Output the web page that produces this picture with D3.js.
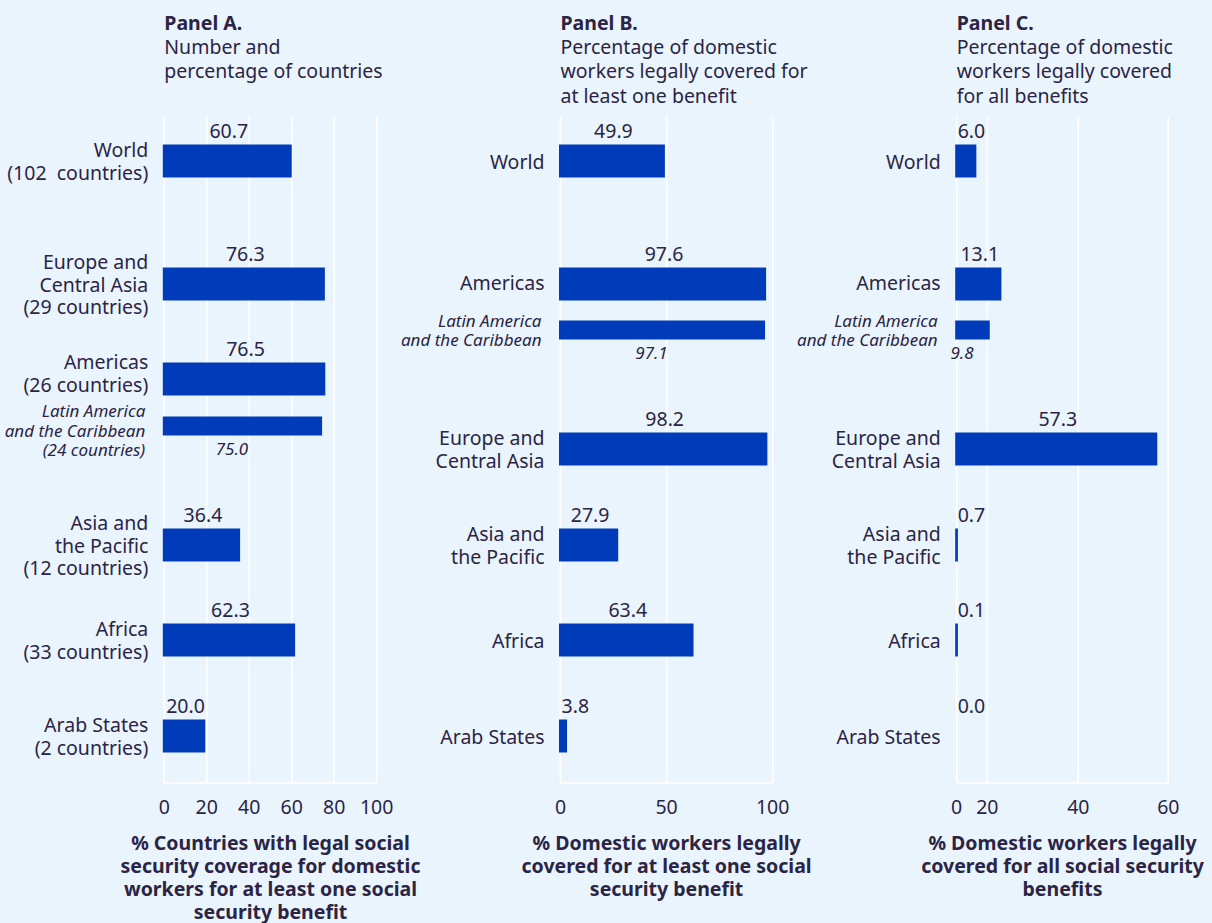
<!DOCTYPE html>
<html>
<head>
<meta charset="utf-8">
<script src="https://cdn.jsdelivr.net/npm/d3@7/dist/d3.min.js"></script>
<style>
  body { margin: 0; background: #eaf4fd; }
  svg { display: block; font-family: "Noto Sans", sans-serif; }
  text { fill: #2b2444; white-space: pre; }
</style>
</head>
<body>
<svg width="1212" height="923"></svg>
<script>
// ---- data ----
const catsA = ["World\n(102  countries)", "Europe and\nCentral Asia\n(29 countries)", "Americas\n(26 countries)",
  "Latin America\nand the Caribbean\n(24 countries)", "Asia and\nthe Pacific\n(12 countries)", "Africa\n(33 countries)", "Arab States\n(2 countries)"];
const valuesA = [60.7, 76.3, 76.5, 75.0, 36.4, 62.3, 20.0];
const subA = [false, false, false, true, false, false, false];

const catsBC = ["World", "Americas", "Latin America\nand the Caribbean", "Europe and\nCentral Asia",
  "Asia and\nthe Pacific", "Africa", "Arab States"];
const valuesB = [49.9, 97.6, 97.1, 98.2, 27.9, 63.4, 3.8];
const valuesC = [6.0, 13.1, 9.8, 57.3, 0.7, 0.1, 0.0];
const subBC = [false, false, true, false, false, false, false];

const ticksA = [0, 20, 40, 60, 80, 100];
const tickLabelsA = ["0", "20", "40", "60", "80", "100"];
const ticksB = [0, 50, 100];
const tickLabelsB = ["0", "50", "100"];
// panel C: grid lines sit where the source drew them, labels as printed
const ticksC = [0, 8.7, 34.5, 60];
const tickLabelsC = ["0", "20", "40", "60"];

const titles = ["Panel A.", "Panel B.", "Panel C."];
const subtitles = [
  ["Number and", "percentage of countries"],
  ["Percentage of domestic", "workers legally covered for", "at least one benefit"],
  ["Percentage of domestic", "workers legally covered", "for all benefits"]
];
const axisTitles = [
  ["% Countries with legal social", "security coverage for domestic", "workers for at least one social", "security benefit"],
  ["% Domestic workers legally", "covered for at least one social", "security benefit"],
  ["% Domestic workers legally", "covered for all social security", "benefits"]
];

// ---- layout ----
const barColor = "#003cb9";
const fs = 19.5, fsSub = 17;
const rowYA = [161, 284, 379, 426, 545, 640, 736];
const rowYBC = [161, 284, 330, 449, 545, 640, 736];

const panels = [
  { cats: catsA, vals: valuesA, sub: subA, rows: rowYA, domain: [0, 100], range: [164.3, 376.7], ticks: ticksA, tickLabels: tickLabelsA },
  { cats: catsBC, vals: valuesB, sub: subBC, rows: rowYBC, domain: [0, 100], range: [560.5, 772.7], ticks: ticksB, tickLabels: tickLabelsB },
  { cats: catsBC, vals: valuesC, sub: subBC, rows: rowYBC, domain: [0, 60], range: [956.7, 1168.3], ticks: ticksC, tickLabels: tickLabelsC }
];

const svg = d3.select("svg");
svg.append("rect").attr("width", 1212).attr("height", 923).attr("fill", "#eaf4fd");

const plotTop = 117, plotBottom = 783;

panels.forEach((p, i) => {
  const g = svg.append("g");
  const x = d3.scaleLinear().domain(p.domain).range(p.range);
  const y = d3.scaleOrdinal().domain(p.cats).range(p.rows);
  const x0 = x(0);

  // title
  g.append("text").attr("x", x0).attr("y", 22).attr("dominant-baseline", "central")
    .attr("font-size", fs).attr("font-weight", "bold").text(titles[i]);
  g.selectAll(".subt").data(subtitles[i]).join("text")
    .attr("x", x0).attr("y", (d, k) => 46 + k * 24.5).attr("dominant-baseline", "central")
    .attr("font-size", fs).text(d => d);

  // grid
  g.selectAll(".grid").data(p.ticks).join("line")
    .attr("x1", d => x(d)).attr("x2", d => x(d))
    .attr("y1", plotTop).attr("y2", plotBottom)
    .attr("stroke", "#fff").attr("stroke-width", 1.5);
  g.append("line").attr("x1", p.range[0]).attr("x2", p.range[1])
    .attr("y1", plotBottom).attr("y2", plotBottom)
    .attr("stroke", "#fff").attr("stroke-width", 1.5);

  // tick labels
  g.selectAll(".tick").data(p.ticks).join("text")
    .attr("x", d => x(d)).attr("y", 806).attr("text-anchor", "middle")
    .attr("dominant-baseline", "central").attr("font-size", fs)
    .text((d, k) => p.tickLabels[k]);

  // axis title
  const cx = (p.range[0] + p.range[1]) / 2;
  g.selectAll(".at").data(axisTitles[i]).join("text")
    .attr("x", cx).attr("y", (d, k) => 842 + k * 23)
    .attr("text-anchor", "middle").attr("dominant-baseline", "central")
    .attr("font-size", fs).attr("font-weight", "bold").text(d => d);

  // bars
  p.cats.forEach((c, k) => {
    const isSub = p.sub[k];
    const h = isSub ? 19 : 33;
    const yc = y(c);
    const v = p.vals[k];
    const bw = v > 0 ? Math.max(2.7, x(v) - x0) : 0;
    g.append("rect")
      .attr("x", x0 - 1.5).attr("y", yc - h / 2)
      .attr("width", bw).attr("height", h)
      .attr("fill", barColor);

    // category label
    const lines = c.split("\n");
    const lh = isSub ? 19.5 : 22.5;
    let ly = yc;
    if (isSub) ly += (lines.length - 2) * 4;
    else if (p.sub[k + 1]) ly -= lines.length > 1 ? 6 : 2;
    g.selectAll(null).data(lines).join("text")
      .attr("x", x0 - (isSub ? 19 : 16))
      .attr("y", (d, j) => ly + (j - (lines.length - 1) / 2) * lh)
      .attr("text-anchor", "end").attr("dominant-baseline", "central")
      .attr("font-size", isSub ? fsSub : fs)
      .attr("font-style", isSub ? "italic" : "normal")
      .text(d => d);

    // value label
    const label = g.append("text")
      .attr("dominant-baseline", "central")
      .attr("font-size", isSub ? fsSub : fs)
      .attr("font-style", isSub ? "italic" : "normal")
      .text(v.toFixed(1));
    const w = label.node().getComputedTextLength();
    let lx = (x0 + x(v)) / 2;
    if (isSub) {
      lx -= 12;
    } else if (lx - w / 2 < x0 + 1) {
      lx = x0 + 1 + w / 2;
    }
    label.attr("x", lx).attr("text-anchor", "middle")
      .attr("y", isSub ? yc + h / 2 + 13 : yc - h / 2 - 14);
  });
});
</script>
</body>
</html>
